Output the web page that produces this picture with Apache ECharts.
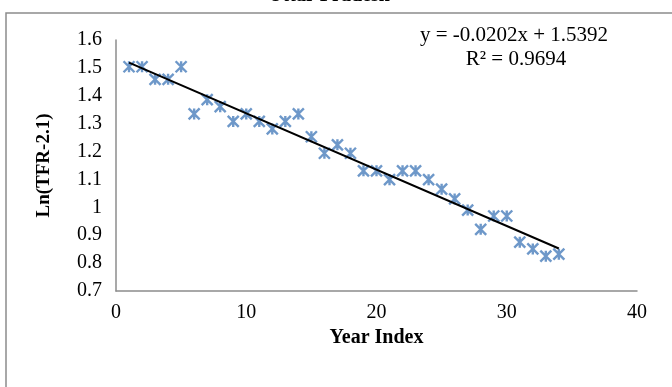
<!DOCTYPE html>
<html><head><meta charset="utf-8">
<script src="https://cdn.jsdelivr.net/npm/echarts@6/dist/echarts.min.js"></script>
<style>html,body{margin:0;padding:0;background:#fff}#c{width:672px;height:387px}</style>
</head><body><div id="c"></div>
<script>
var yearIndex = [1,2,3,4,5,6,7,8,9,10,11,12,13,14,15,16,17,18,19,20,21,22,23,24,25,26,27,28,29,30,31,32,33,34];
var lnTfr = [1.504,1.504,1.459,1.459,1.504,1.335,1.386,1.361,1.308,1.335,1.308,1.281,1.308,1.335,1.253,1.194,1.224,1.194,1.131,1.131,1.099,1.131,1.131,1.099,1.065,1.030,0.990,0.921,0.969,0.969,0.875,0.851,0.825,0.832];
var trendSlope = [-0.0202];
var trendIntercept = [1.5392];
var trendLabels = ['y = -0.0202x + 1.5392', 'R² = 0.9694'];

var pts = yearIndex.map(function(x,i){return [x, lnTfr[i]];});
var x0 = yearIndex[0], x1 = yearIndex[yearIndex.length-1];
var trend = [[x0, trendSlope[0]*x0+trendIntercept[0]],[x1, trendSlope[0]*x1+trendIntercept[0]]];

var font = 'Liberation Serif, Times New Roman, serif';
var chart = echarts.init(document.getElementById('c'), null, {renderer:'canvas'});
chart.setOption({
  animation:false,
  title:{text:'Uttar Pradesh', left:324, textAlign:'center', top:-19,
    textStyle:{fontFamily:font, fontWeight:'bold', fontSize:20, color:'#000'}},
  graphic:[
    {type:'polyline', shape:{points:[[6,400],[6,13],[680,13]]}, style:{stroke:'#8c8c8c', lineWidth:1.5, fill:null}, silent:true},
    {type:'text', x:514, y:25, style:{text:trendLabels[0], font:'21px '+font, fill:'#000', textAlign:'center'}},
    {type:'text', x:516, y:49, style:{text:trendLabels[1], font:'21px '+font, fill:'#000', textAlign:'center'}}
  ],
  grid:{left:116, right:35, top:40, bottom:96},
  xAxis:{type:'value', min:0, max:40, interval:10,
    name:'Year Index', nameLocation:'middle', nameGap:37,
    nameTextStyle:{fontFamily:font, fontWeight:'bold', fontSize:20, color:'#000'},
    axisLine:{lineStyle:{color:'#8c8c8c', width:1.5}}, axisTick:{show:false}, splitLine:{show:false},
    axisLabel:{fontFamily:font, fontSize:20, color:'#000', margin:12}},
  yAxis:{type:'value', min:0.7, max:1.6, interval:0.1,
    name:'Ln(TFR-2.1)', nameLocation:'middle', nameGap:62,
    nameTextStyle:{fontFamily:font, fontWeight:'bold', fontSize:19, color:'#000'},
    axisLine:{show:true, lineStyle:{color:'#8c8c8c', width:1.5}}, axisTick:{show:false}, splitLine:{show:false},
    axisLabel:{fontFamily:font, fontSize:20, color:'#000', margin:14,
      formatter:function(v){return String(Math.round(v*10)/10);}}},
  series:[
    {type:'line', data:trend, symbol:'none', lineStyle:{color:'#000', width:2}, z:3},
    {type:'scatter', data:pts, symbol:'path://M0,0L10,10M10,0L0,10M5,0L5,10', symbolSize:11,
      itemStyle:{color:'rgba(0,0,0,0)', borderColor:'#4a7ebb', borderWidth:2.4}, z:2}
  ]
});
</script></body></html>
